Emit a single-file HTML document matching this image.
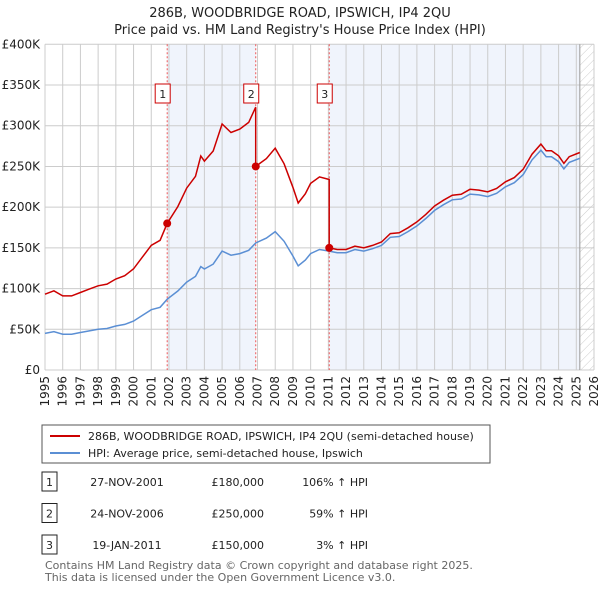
<!DOCTYPE html>
<html><head><meta charset="utf-8"><style>
body{margin:0;background:#fff;font-family:"Liberation Sans","DejaVu Sans",sans-serif;}
svg text{font-family:"DejaVu Sans","Liberation Sans",sans-serif;}
</style></head><body>
<svg id="c" width="600" height="590" viewBox="0 0 600 590" xmlns="http://www.w3.org/2000/svg">
<defs><pattern id="hatch" width="6" height="6" patternUnits="userSpaceOnUse" patternTransform="rotate(45)"><line x1="0" y1="0" x2="0" y2="6" stroke="#ccc" stroke-width="1"/></pattern></defs>
<text x="300" y="17" text-anchor="middle" font-size="13" fill="#222">286B, WOODBRIDGE ROAD, IPSWICH, IP4 2QU</text>
<text x="300" y="34" text-anchor="middle" font-size="13" fill="#222">Price paid vs. HM Land Registry's House Price Index (HPI)</text>
<g id="plot"></g>
<g>
<rect x="42" y="425" width="448" height="38" fill="#fff" stroke="#555"/>
<line x1="50" y1="436" x2="80" y2="436" stroke="#cc0000" stroke-width="2"/>
<text x="88" y="440" font-size="11" fill="#222">286B, WOODBRIDGE ROAD, IPSWICH, IP4 2QU (semi-detached house)</text>
<line x1="50" y1="453" x2="80" y2="453" stroke="#5b8fd4" stroke-width="2"/>
<text x="88" y="457" font-size="11" fill="#222">HPI: Average price, semi-detached house, Ipswich</text>
</g>
<g id="table" font-size="11" fill="#222"></g>
<text x="45" y="569" font-size="11" fill="#666">Contains HM Land Registry data © Crown copyright and database right 2025.</text>
<text x="45" y="581" font-size="11" fill="#666">This data is licensed under the Open Government Licence v3.0.</text>
</svg>
<script>
const hpiYears=[1995,1995.5,1996,1996.5,1997,1997.5,1998,1998.5,1999,1999.5,2000,2000.5,2001,2001.5,2001.9,2002.5,2003,2003.5,2003.8,2004,2004.5,2005,2005.5,2006,2006.5,2006.9,2007.5,2008,2008.5,2009,2009.3,2009.7,2010,2010.5,2011.05,2011.5,2012,2012.5,2013,2013.5,2014,2014.5,2015,2015.5,2016,2016.5,2017,2017.5,2018,2018.5,2019,2019.5,2020,2020.5,2021,2021.5,2022,2022.5,2023,2023.3,2023.6,2024,2024.3,2024.6,2025.2];
const hpiValues=[45,47,44,44,46,48,50,51,54,56,60,67,74,77,87,97,108,115,127,124,130,146,141,143,147,156,162,170,158,140,128,135,143,148,146,144,144,148,146,149,153,163,164,170,177,186,196,203,209,210,216,215,213,217,225,230,240,258,270,262,262,256,247,255,260];
const saleYears=[2001.9,2006.9,2011.05];
const salePrices=[180000,250000,150000];
const saleDates=["27-NOV-2001","24-NOV-2006","19-JAN-2011"];
const salePct=["106% ↑ HPI","59% ↑ HPI","3% ↑ HPI"];
const yTicks=[0,50,100,150,200,250,300,350,400];
const yTickLabels=["£0","£50K","£100K","£150K","£200K","£250K","£300K","£350K","£400K"];
const xTicks=[1995,1996,1997,1998,1999,2000,2001,2002,2003,2004,2005,2006,2007,2008,2009,2010,2011,2012,2013,2014,2015,2016,2017,2018,2019,2020,2021,2022,2023,2024,2025,2026];

const NS="http://www.w3.org/2000/svg";
const X0=45,X1=594,Y0=370,Y1=44.3,yr0=1995,yr1=2026,dataEnd=2025.2;
const x=v=>X0+(v-yr0)/(yr1-yr0)*(X1-X0);
const y=v=>Y0-v/400*(Y0-Y1);
const g=document.getElementById('plot');
function mk(tag,attrs,parent){const e=document.createElementNS(NS,tag);for(const k in attrs)e.setAttribute(k,attrs[k]);(parent||g).appendChild(e);return e;}
function hpiAt(t){for(let i=0;i<hpiYears.length-1;i++){if(t<=hpiYears[i+1]){const f=(t-hpiYears[i])/(hpiYears[i+1]-hpiYears[i]);return hpiValues[i]+f*(hpiValues[i+1]-hpiValues[i]);}}return hpiValues[hpiValues.length-1];}

let r=mk('rect',{x:x(saleYears[0]),y:Y1,width:x(saleYears[1])-x(saleYears[0]),height:Y0-Y1,fill:'#f0f4fc'});


r=mk('rect',{x:x(saleYears[2]),y:Y1,width:x(dataEnd)-x(saleYears[2]),height:Y0-Y1,fill:'#f0f4fc'});


r=mk('rect',{x:x(dataEnd),y:Y1,width:X1-x(dataEnd),height:Y0-Y1,fill:'url(#hatch)'});


yTicks.forEach((v,i)=>{
 const l=mk('line',{x1:X0,x2:X1,y1:y(v),y2:y(v),stroke:'#ccc','stroke-width':1});
 
 
 const t=mk('text',{x:40,y:y(v)+4,'text-anchor':'end','font-size':12,fill:'#222'});
 t.textContent=yTickLabels[i];
 
 
});
xTicks.forEach(v=>{
 const l=mk('line',{x1:x(v),x2:x(v),y1:Y1,y2:Y0,stroke:'#ccc','stroke-width':1});
 
 
 const t=mk('text',{x:0,y:0,'text-anchor':'end','font-size':12,fill:'#222',transform:`translate(${x(v)+4},376) rotate(-90)`});
 t.textContent=v;
 
 
});
const dl=mk('line',{x1:x(dataEnd),x2:x(dataEnd),y1:Y1,y2:Y0,stroke:'#999','stroke-width':1});


saleYears.forEach((s,i)=>{
 const l=mk('line',{x1:x(s),x2:x(s),y1:Y1,y2:Y0,stroke:'#ee5555','stroke-width':1,'stroke-dasharray':'2,2'});
 
 
});
let d='';hpiYears.forEach((t,i)=>{d+=(i?'L':'M')+x(t).toFixed(1)+','+y(hpiValues[i]).toFixed(1);});
const hp=mk('path',{d,fill:'none',stroke:'#5b8fd4','stroke-width':1.5});


const ratio=saleYears.map((s,i)=>salePrices[i]/1000/hpiAt(s));
let pts=[];
hpiYears.forEach(t=>{let k=0;for(let i=0;i<saleYears.length;i++)if(t>=saleYears[i])k=i;pts.push([t,hpiAt(t)*ratio[k]]);});
saleYears.forEach((s,i)=>{if(i>0)pts.push([s-0.001,hpiAt(s)*ratio[i-1]]);pts.push([s,salePrices[i]/1000]);});
pts.sort((a,b)=>a[0]-b[0]);
d='';pts.forEach((p,i)=>{d+=(i?'L':'M')+x(p[0]).toFixed(1)+','+y(p[1]).toFixed(1);});
const pp=mk('path',{d,fill:'none',stroke:'#cc0000','stroke-width':1.5});


saleYears.forEach((s,i)=>{
 const c=mk('circle',{cx:x(s),cy:y(salePrices[i]/1000),r:4,fill:'#cc0000'});
 
 
 const b=mk('rect',{x:x(s)-12,y:84,width:15,height:19,fill:'#fff',stroke:'#cc0000'});
 
 
 const t=mk('text',{x:x(s)-4.5,y:98,'text-anchor':'middle','font-size':11,fill:'#222'});
 t.textContent=i+1;
 
 
});
const tb=document.getElementById('table');
saleYears.forEach((s,i)=>{
 const cy=482+i*31.5;
 const b=mk('rect',{x:42,y:cy-10,width:15,height:19,fill:'#fff',stroke:'#222'},tb);
 
 
 const n=mk('text',{x:49.5,y:cy+4,'text-anchor':'middle'},tb);n.textContent=i+1;
 
 
 const dt=mk('text',{x:127,y:cy+4,'text-anchor':'middle'},tb);dt.textContent=saleDates[i];
 
 
 const pr=mk('text',{x:264,y:cy+4,'text-anchor':'end'},tb);pr.textContent='£'+salePrices[i].toLocaleString('en-GB');
 
 
 const pc=mk('text',{x:368,y:cy+4,'text-anchor':'end'},tb);pc.textContent=salePct[i];
 
 
});
</script>
</body></html>
